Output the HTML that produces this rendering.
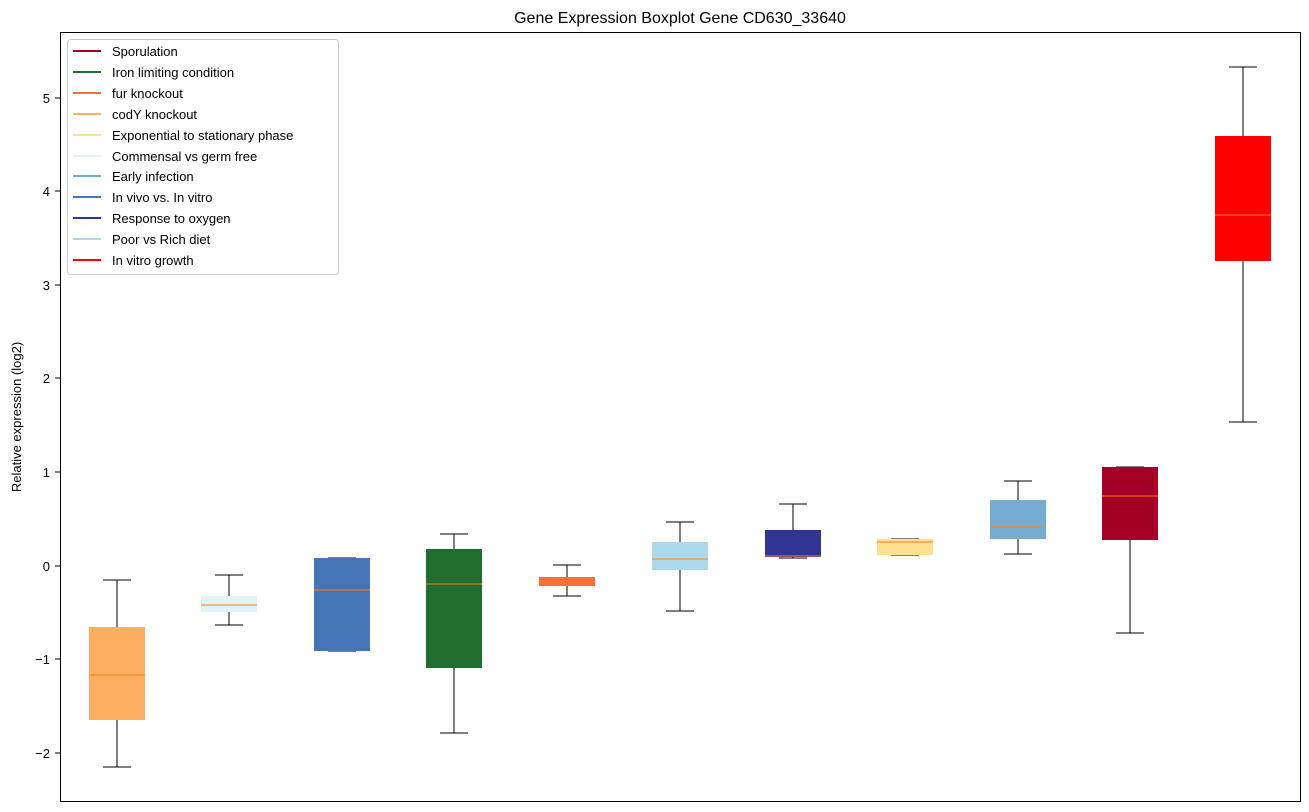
<!DOCTYPE html>
<html><head><meta charset="utf-8"><style>body{margin:0;background:#fff}svg{display:block;font-family:"Liberation Sans","DejaVu Sans",sans-serif}</style></head>
<body>
<svg width="1309" height="812" xmlns="http://www.w3.org/2000/svg">
<rect width="1309" height="812" fill="#fff"/>
<text x="680" y="23" font-size="16" text-anchor="middle">Gene Expression Boxplot Gene CD630_33640</text>
<text transform="translate(21,417) rotate(-90)" font-size="13" text-anchor="middle">Relative expression (log2)</text>
<g font-size="13" text-anchor="end">
<line x1="55" x2="60" y1="98" y2="98" stroke="#000"/><text x="50" y="103">5</text>
<line x1="55" x2="60" y1="191" y2="191" stroke="#000"/><text x="50" y="196">4</text>
<line x1="55" x2="60" y1="285" y2="285" stroke="#000"/><text x="50" y="290">3</text>
<line x1="55" x2="60" y1="378" y2="378" stroke="#000"/><text x="50" y="383">2</text>
<line x1="55" x2="60" y1="472" y2="472" stroke="#000"/><text x="50" y="477">1</text>
<line x1="55" x2="60" y1="566" y2="566" stroke="#000"/><text x="50" y="571">0</text>
<line x1="55" x2="60" y1="659" y2="659" stroke="#000"/><text x="50" y="664">−1</text>
<line x1="55" x2="60" y1="753" y2="753" stroke="#000"/><text x="50" y="758">−2</text>
</g>
<g stroke="#000" stroke-width="1">
<!-- cx, wt, wb, bt, bb, med, color -->
<line x1="117" x2="117" y1="580" y2="767"/><line x1="103" x2="131" y1="580" y2="580"/><line x1="103" x2="131" y1="767" y2="767"/>
<rect x="89" y="627" width="56" height="93" fill="#fdae61" stroke="none"/><line x1="89" x2="145" y1="675" y2="675" stroke="#ff7f0e"/>
<line x1="229" x2="229" y1="575" y2="625"/><line x1="215" x2="243" y1="575" y2="575"/><line x1="215" x2="243" y1="625" y2="625"/>
<rect x="201" y="596" width="56" height="16" fill="#e0f3f8" stroke="none"/><line x1="201" x2="257" y1="605" y2="605" stroke="#ff7f0e"/>
<line x1="342" x2="342" y1="558" y2="651"/><line x1="328" x2="356" y1="558" y2="558"/><line x1="328" x2="356" y1="651" y2="651"/>
<rect x="314" y="558" width="56" height="93" fill="#4575b4" stroke="none"/><line x1="314" x2="370" y1="590" y2="590" stroke="#ff7f0e"/>
<line x1="454" x2="454" y1="534" y2="733"/><line x1="440" x2="468" y1="534" y2="534"/><line x1="440" x2="468" y1="733" y2="733"/>
<rect x="426" y="549" width="56" height="119" fill="#226e2e" stroke="none"/><line x1="426" x2="482" y1="584" y2="584" stroke="#ff7f0e"/>
<line x1="567" x2="567" y1="565" y2="596"/><line x1="553" x2="581" y1="565" y2="565"/><line x1="553" x2="581" y1="596" y2="596"/>
<rect x="539" y="577" width="56" height="9" fill="#f46d43" stroke="none"/><line x1="539" x2="595" y1="582" y2="582" stroke="#ff7f0e"/>
<line x1="680" x2="680" y1="522" y2="611"/><line x1="666" x2="694" y1="522" y2="522"/><line x1="666" x2="694" y1="611" y2="611"/>
<rect x="652" y="542" width="56" height="28" fill="#abd9e9" stroke="none"/><line x1="652" x2="708" y1="559" y2="559" stroke="#ff7f0e"/>
<line x1="793" x2="793" y1="504" y2="558"/><line x1="779" x2="807" y1="504" y2="504"/><line x1="779" x2="807" y1="558" y2="558"/>
<rect x="765" y="530" width="56" height="27" fill="#313695" stroke="none"/><line x1="765" x2="821" y1="556" y2="556" stroke="#ff7f0e"/>
<line x1="905" x2="905" y1="539" y2="555"/><line x1="891" x2="919" y1="539" y2="539"/><line x1="891" x2="919" y1="555" y2="555"/>
<rect x="877" y="539" width="56" height="16" fill="#fee090" stroke="none"/><line x1="877" x2="933" y1="542" y2="542" stroke="#ff7f0e"/>
<line x1="1018" x2="1018" y1="481" y2="554"/><line x1="1004" x2="1032" y1="481" y2="481"/><line x1="1004" x2="1032" y1="554" y2="554"/>
<rect x="990" y="500" width="56" height="39" fill="#74add1" stroke="none"/><line x1="990" x2="1046" y1="527" y2="527" stroke="#ff7f0e"/>
<line x1="1130" x2="1130" y1="467" y2="633"/><line x1="1116" x2="1144" y1="467" y2="467"/><line x1="1116" x2="1144" y1="633" y2="633"/>
<rect x="1102" y="467" width="56" height="73" fill="#a50026" stroke="none"/><line x1="1102" x2="1158" y1="496" y2="496" stroke="#ff7f0e"/>
<line x1="1243" x2="1243" y1="67" y2="422"/><line x1="1229" x2="1257" y1="67" y2="67"/><line x1="1229" x2="1257" y1="422" y2="422"/>
<rect x="1215" y="136" width="56" height="125" fill="#ff0000" stroke="none"/><line x1="1215" x2="1271" y1="215" y2="215" stroke="#ff7f0e"/>
</g>
<rect x="60.5" y="32.5" width="1240" height="769" fill="none" stroke="#000"/>
<rect x="67.5" y="39.5" width="271" height="235" rx="3" fill="#fff" fill-opacity="0.8" stroke="#ccc"/>
<g font-size="13" stroke-width="2">
<line x1="73" x2="101" y1="51" y2="51" stroke="#a50026"/><text x="112" y="56">Sporulation</text>
<line x1="73" x2="101" y1="72" y2="72" stroke="#226e2e"/><text x="112" y="77">Iron limiting condition</text>
<line x1="73" x2="101" y1="93" y2="93" stroke="#f46d43"/><text x="112" y="98">fur knockout</text>
<line x1="73" x2="101" y1="114" y2="114" stroke="#fdae61"/><text x="112" y="119">codY knockout</text>
<line x1="73" x2="101" y1="135" y2="135" stroke="#fee090"/><text x="112" y="140">Exponential to stationary phase</text>
<line x1="73" x2="101" y1="156" y2="156" stroke="#e0f3f8"/><text x="112" y="161">Commensal vs germ free</text>
<line x1="73" x2="101" y1="176" y2="176" stroke="#74add1"/><text x="112" y="181">Early infection</text>
<line x1="73" x2="101" y1="197" y2="197" stroke="#4575b4"/><text x="112" y="202">In vivo vs. In vitro</text>
<line x1="73" x2="101" y1="218" y2="218" stroke="#313695"/><text x="112" y="223">Response to oxygen</text>
<line x1="73" x2="101" y1="239" y2="239" stroke="#abd9e9"/><text x="112" y="244">Poor vs Rich diet</text>
<line x1="73" x2="101" y1="260" y2="260" stroke="#ff0000"/><text x="112" y="265">In vitro growth</text>
</g>
</svg>
</body></html>
